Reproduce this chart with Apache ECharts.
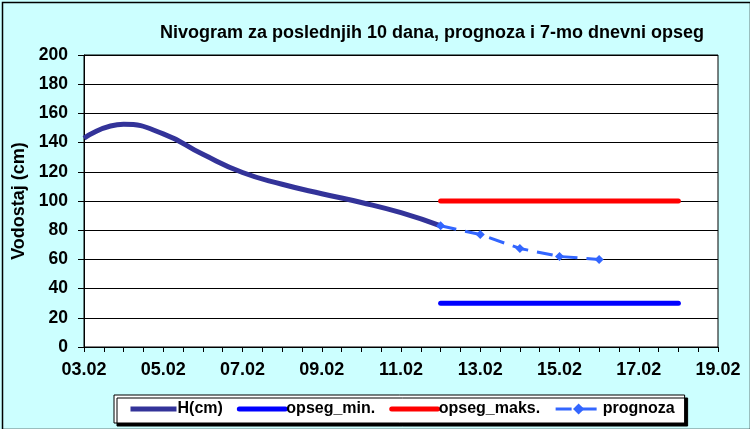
<!DOCTYPE html>
<html>
<head>
<meta charset="utf-8">
<script src="https://cdn.jsdelivr.net/npm/echarts@6/dist/echarts.min.js"></script>
<style>
html,body{margin:0;padding:0;background:#CCFFFF;}
#c{width:750px;height:429px;}
</style>
</head>
<body>
<div id="c"></div>
<script>
// Data (x = day of February)
var hDays   = [3, 4, 5, 6, 7, 8, 9, 10, 11, 12];
var hValues = [143, 152.5, 146, 132, 119.5, 111.5, 105, 99, 92, 83];
var prognozaDays   = [12, 13, 14, 15, 16];
var prognozaValues = [83, 77, 67.5, 62, 60];
var opsegDays = [12, 18];
var opsegMin  = [30, 30];
var opsegMax  = [100, 100];
var seriesNames = ['H(cm)', 'opseg_min.', 'opseg_maks.', 'prognoza'];
var titleText = 'Nivogram za poslednjih 10 dana, prognoza i 7-mo dnevni opseg';
var yAxisName = 'Vodostaj (cm)';

function pairs(xs, ys){ return xs.map(function(x,i){ return [x, ys[i]]; }); }
function pad(n){ return (n < 10 ? '0' : '') + n; }

var FONT = 'Liberation Sans, Arial, sans-serif';
var chart = echarts.init(document.getElementById('c'), null, {renderer:'canvas'});
chart.setOption({
  animation: false,
  backgroundColor: '#CCFFFF',
  title: {
    text: titleText,
    left: 155, top: 19,
    textStyle: {fontFamily: FONT, fontWeight: 'bold', fontSize: 18, color: '#000'}
  },
  grid: {
    left: 84, right: 32, top: 55, bottom: 82,
    show: true, backgroundColor: '#FFFFFF', borderColor: '#000', borderWidth: 1
  },
  xAxis: {
    type: 'value', min: 3, max: 19, interval: 0.5,
    axisLine: {show: true, lineStyle: {color: '#000', width: 1}},
    axisTick: {show: true, length: 5, lineStyle: {color: '#000'}},
    splitLine: {show: false},
    axisLabel: {
      color: '#000', fontFamily: FONT, fontWeight: 'bold', fontSize: 18, margin: 14,
      showMinLabel: true, showMaxLabel: true, hideOverlap: false,
      formatter: function(v){ return (Math.abs(v % 2 - 1) < 1e-6) ? pad(Math.round(v)) + '.02' : ''; }
    }
  },
  yAxis: {
    type: 'value', min: 0, max: 200, interval: 20,
    name: yAxisName, nameLocation: 'middle', nameGap: 52, nameRotate: 90,
    nameTextStyle: {fontFamily: FONT, fontWeight: 'bold', fontSize: 18, color: '#000'},
    axisLine: {show: true, lineStyle: {color: '#000', width: 1}},
    axisTick: {show: true, length: 6, lineStyle: {color: '#000'}},
    splitLine: {show: true, lineStyle: {color: '#000', width: 1}},
    axisLabel: {color: '#000', fontFamily: FONT, fontWeight: 'bold', fontSize: 17.5, margin: 16}
  },
  legend: {
    left: 114, top: 395,
    backgroundColor: '#FFFFFF', borderColor: '#000', borderWidth: 1,
    shadowColor: '#000', shadowOffsetX: 3, shadowOffsetY: 3, shadowBlur: 0,
    padding: [6, 10, 6, 14],
    itemWidth: 46, itemHeight: 14, itemGap: 14,
    textStyle: {fontFamily: FONT, fontWeight: 'bold', fontSize: 16, color: '#000', padding: [0,0,0,-4]},
    data: [
      {name: seriesNames[0], itemStyle: {opacity: 0}, lineStyle: {width: 5}},
      {name: seriesNames[1], itemStyle: {opacity: 0}, lineStyle: {width: 5}},
      {name: seriesNames[2], itemStyle: {opacity: 0}, lineStyle: {width: 5}},
      {name: seriesNames[3], lineStyle: {width: 3}}
    ]
  },
  series: [
    {
      name: seriesNames[0], type: 'line', data: pairs(hDays, hValues),
      smooth: 0.5, symbol: 'none',
      lineStyle: {color: '#333399', width: 5}, itemStyle: {color: '#333399'}
    },
    {
      name: seriesNames[1], type: 'line', data: pairs(opsegDays, opsegMin),
      symbol: 'none', lineStyle: {color: '#0000FF', width: 5, cap: 'round'}, itemStyle: {color: '#0000FF'}
    },
    {
      name: seriesNames[2], type: 'line', data: pairs(opsegDays, opsegMax),
      symbol: 'none', lineStyle: {color: '#FF0000', width: 5, cap: 'round'}, itemStyle: {color: '#FF0000'}
    },
    {
      name: seriesNames[3], type: 'line', data: pairs(prognozaDays, prognozaValues),
      symbol: 'diamond', symbolSize: 9,
      lineStyle: {color: '#3366FF', width: 3, type: [16, 9]}, itemStyle: {color: '#3366FF'}
    }
  ],
  graphic: [{
    type: 'rect', left: 0, top: 0, z: 100, silent: true,
    shape: {x: 0.5, y: 0.5, width: 748, height: 427},
    style: {fill: 'none', stroke: '#000', lineWidth: 1.5}
  }]
});
</script>
</body>
</html>
